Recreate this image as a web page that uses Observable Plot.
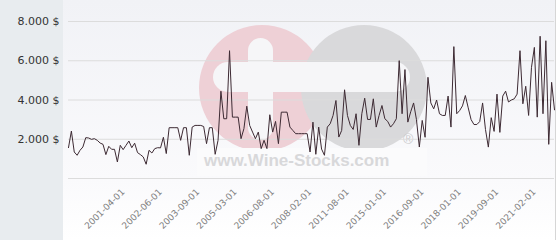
<!DOCTYPE html>
<html><head><meta charset="utf-8">
<script src="https://cdn.jsdelivr.net/npm/d3@7"></script>
<script src="https://cdn.jsdelivr.net/npm/@observablehq/plot@0.6"></script>
<style>
html,body{margin:0;padding:0;background:#fff;}
#wrap{position:relative;width:560px;height:240px;overflow:hidden;font-family:"DejaVu Sans",sans-serif;}
#left{position:absolute;left:0;top:0;width:63px;height:240px;background:#e8ecef;}
#main{position:absolute;left:63px;top:0;width:492px;height:240px;background:linear-gradient(#f1f2f6,#fafafc 75%,#ffffff);border-right:1px solid #d6d6d6;}
#wm{position:absolute;left:0;top:0;}
#chart{position:absolute;left:0;top:0;}
</style>
</head><body>
<div id="wrap">
  <div id="left"></div>
  <div id="main"></div>
  <svg id="wm" width="560" height="240">
    <circle cx="262" cy="88" r="63" fill="#eed0d6"/>
    <circle cx="364" cy="88" r="63" fill="#d9d9db"/>
    <rect x="248" y="38" width="25" height="102" rx="12.5" fill="#f6f6f8"/>
    <rect x="213" y="62" width="197" height="30" rx="15" fill="#f6f6f8"/>
    <rect x="197" y="148" width="230" height="28" fill="#fbfbfc"/>
    <text x="204" y="166" font-family="Liberation Sans" font-weight="bold" font-size="17" fill="#d8d8da">www.Wine-Stocks.com</text>
    <text x="403" y="144" font-family="Liberation Sans" font-size="14" fill="#cbcbce">®</text>
  </svg>
  <div id="chart"></div>
</div>
<script>
const values = [
  1574, 2416, 1350, 1183, 1436, 1604, 2081, 2064, 1995, 2030,
  1945, 1807, 1740, 1218, 1640, 1487, 1487, 843, 1690, 1470,
  1690, 1910, 1570, 1800, 1320, 1218, 1097, 726, 1436, 1300,
  1523, 1570, 1560, 2100, 1270, 2589, 2589, 2589, 2589, 1944,
  2589, 2589, 1183, 2620, 2705, 2705, 2705, 2650, 1776, 2589,
  2589, 1233, 1944, 4447, 3045, 3045, 6512, 3127, 3127, 3127,
  2030, 2538, 3685, 2705, 2365, 2030, 2365, 1523, 1944, 1523,
  3249, 2365, 2909, 1776, 3380, 3380, 3380, 2620, 2452, 2284,
  2284, 2284, 2284, 2284, 1350, 2873, 1233, 2620, 1500, 1183,
  2620, 2790, 3213, 3975, 2112, 2452, 4520, 3213, 2705, 2500,
  3300, 1690, 3300, 4092, 3010, 3010, 4060, 2620, 3213, 3720,
  3045, 2909, 2620, 2790, 3045, 6005, 3300, 5550, 2873, 3400,
  3850, 3000, 1604, 2960, 2100, 5157, 3850, 3550, 4000, 3300,
  3213, 3213, 4200, 2620, 6720, 3300, 3460, 3700, 4228, 3600,
  3000, 2750, 2750, 2900, 3850, 2500, 1600, 3100, 2400, 4300,
  2350, 4200, 4450, 3900, 4000, 4060, 4300, 6512, 3807, 4700,
  3213, 5665, 6680, 3127, 7250, 3300, 7020, 1740, 4900, 3500
];
const tickIdx = [19, 32, 45, 58, 71, 84, 97, 110, 123, 136, 149, 162];
const tickLabels = ["2001-04-01", "2002-06-01", "2003-09-01", "2005-03-01", "2006-08-01", "2008-02-01",
                    "2011-08-01", "2015-01-01", "2016-09-01", "2018-01-01", "2019-09-01", "2021-02-01"];
const yTicks = [2000, 4000, 6000, 8000];
const gridValues = [0, 2000, 4000, 6000, 8000];

const data = values.map((v, i) => ({i, v}));
const fmt = v => d3.format(",")(v).replace(/,/g, ".") + " $";

const chart = Plot.plot({
  width: 560, height: 240,
  marginLeft: 68, marginRight: 6, marginTop: 21, marginBottom: 62,
  style: {background: "transparent", fontFamily: "DejaVu Sans", overflow: "visible"},
  x: {domain: [0, values.length - 1], axis: null, label: null},
  y: {domain: [0, 8000], axis: null, label: null},
  marks: [
    Plot.gridY(gridValues, {stroke: "#dcdcdc", strokeOpacity: 1}),
    Plot.axisY(yTicks, {tickSize: 0, tickPadding: 9, tickFormat: fmt, fontSize: 11, fill: "#333", label: null}),
    Plot.axisX(tickIdx, {tickSize: 0, tickPadding: 12, tickRotate: -45, label: null,
      tickFormat: d => tickLabels[tickIdx.indexOf(d)], fontSize: 9, fill: "#808080"}),
    Plot.line(data, {x: "i", y: "v", stroke: "#3d2a33", strokeWidth: 1})
  ]
});
document.getElementById("chart").appendChild(chart);
</script>
</body></html>
